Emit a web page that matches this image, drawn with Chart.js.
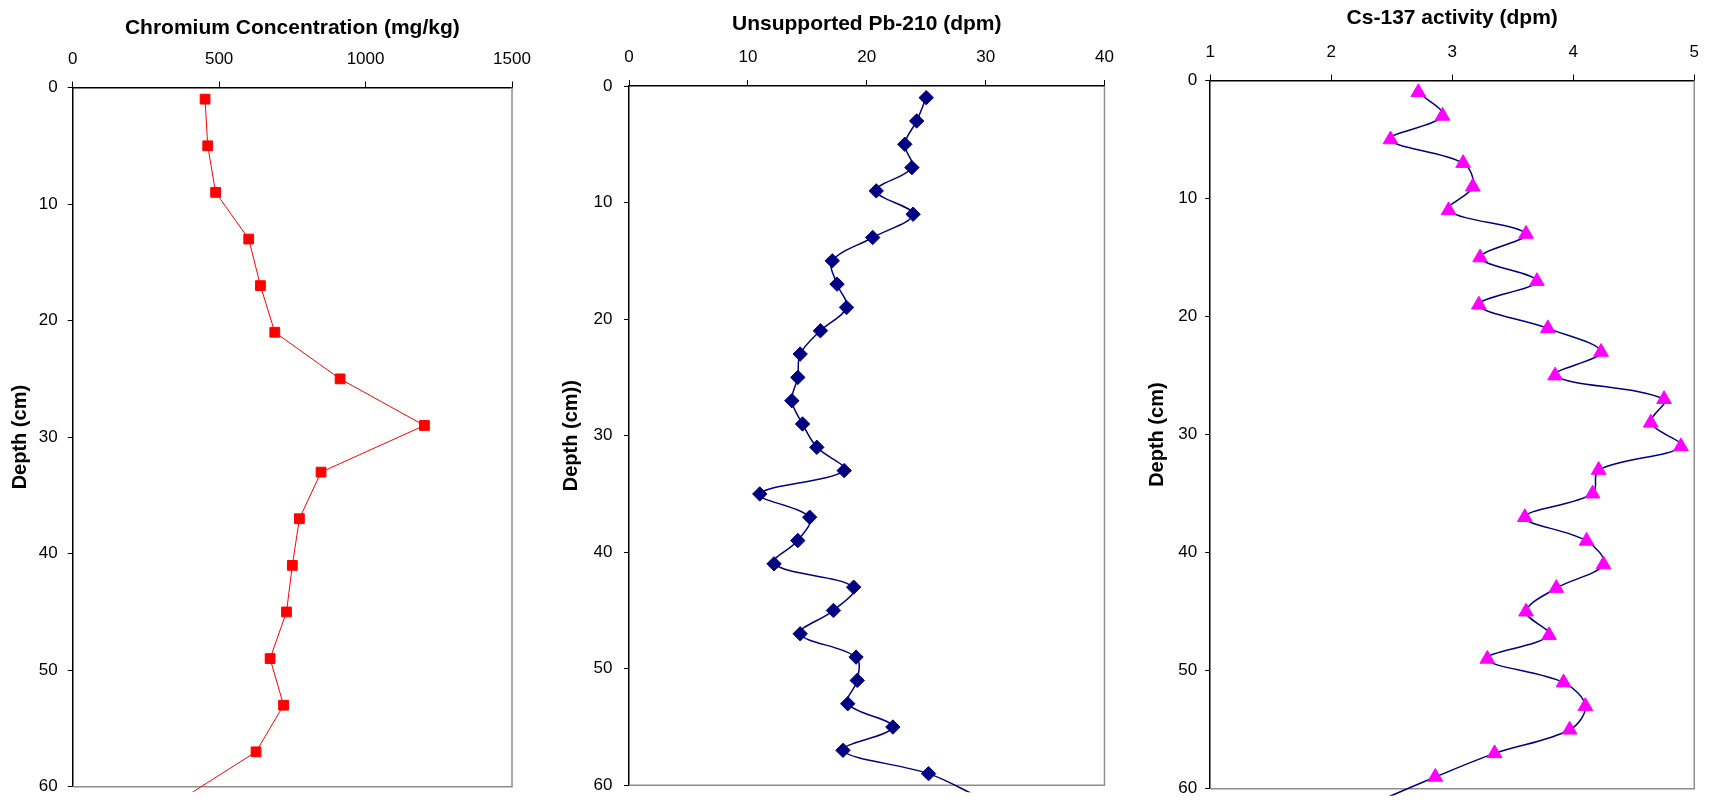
<!DOCTYPE html>
<html>
<head>
<meta charset="utf-8">
<title>Core profiles</title>
<script src="https://cdn.jsdelivr.net/npm/chart.js@4.4.1/dist/chart.umd.min.js"></script>
<style>
  html, body { margin: 0; padding: 0; background: #fff; }
  #wrap { position: relative; width: 1711px; height: 807px; overflow: hidden; }
  canvas { position: absolute; top: 0; }
</style>
</head>
<body>
<div id="wrap">
  <canvas id="crChart" width="550" height="807" style="left:0px"></canvas>
  <canvas id="pbChart" width="590" height="807" style="left:550px"></canvas>
  <canvas id="csChart" width="571" height="807" style="left:1140px"></canvas>
</div>
<script>
// Step 1: Data (depth in cm, last point sits just below the 60 cm floor)
const crDepth = [1, 5, 9, 13, 17, 21, 25, 29, 33, 37, 41, 45, 49, 53, 57, 61];
const crValues = [452, 461, 488, 601, 641, 690, 913, 1201, 848, 774, 750, 730, 674, 720, 626, 375];

const pbDepth = [1, 3, 5, 7, 9, 11, 13, 15, 17, 19, 21, 23, 25, 27, 29, 31,
                 33, 35, 37, 39, 41, 43, 45, 47, 49, 51, 53, 55, 57, 59, 61];
const pbValues = [25.0, 24.2, 23.2, 23.8, 20.8, 23.9, 20.5, 17.1, 17.5, 18.3, 16.1,
                  14.4, 14.2, 13.7, 14.6, 15.8, 18.1, 11.0, 15.2, 14.2, 12.2, 18.9,
                  17.2, 14.4, 19.1, 19.2, 18.4, 22.2, 18.0, 25.2, 29.4];

const csDepth = pbDepth;
const csValues = [2.72, 2.92, 2.49, 3.09, 3.17, 2.97, 3.61, 3.23, 3.70, 3.22, 3.79,
                  4.23, 3.85, 4.75, 4.64, 4.89, 4.21, 4.16, 3.60, 4.11, 4.25, 3.86,
                  3.61, 3.80, 3.29, 3.92, 4.10, 3.97, 3.35, 2.86, 2.40];

const depthTicks = [0, 10, 20, 30, 40, 50, 60];

// Step 2: shared look
const FONT = "'Liberation Sans', Arial, sans-serif";
Chart.defaults.font.family = FONT;
Chart.defaults.color = "#000";

// gray frame on the right and bottom of the plot area (Excel style)
const plotFrame = {
  id: "plotFrame",
  beforeDatasetsDraw(chart) {
    const { ctx, chartArea: a } = chart;
    ctx.save();
    ctx.strokeStyle = "#8e8e8e";
    ctx.lineWidth = 1.5;
    ctx.beginPath();
    ctx.moveTo(a.right, a.top);
    ctx.lineTo(a.right, a.bottom);
    ctx.lineTo(a.left, a.bottom);
    ctx.stroke();
    ctx.restore();
  }
};

function toPoints(values, depths) {
  return depths.map((d, i) => ({ x: values[i], y: d }));
}

// last point is only there so the line runs off the bottom
function hideLast(depths, r) {
  return depths.map((d, i) => (i === depths.length - 1 ? 0 : r));
}

// Step 3: one chart per profile
function makePanel(id, p) {
  const ctx = document.getElementById(id).getContext("2d");
  return new Chart(ctx, {
    type: "scatter",
    data: {
      datasets: [{
        data: toPoints(p.values, p.depths),
        showLine: true,
        borderColor: p.lineColor,
        borderWidth: p.lineWidth,
        tension: p.tension,
        pointStyle: p.marker,
        pointRadius: hideLast(p.depths, p.markerSize),
        pointBackgroundColor: p.markerColor,
        pointBorderColor: p.markerColor,
        pointBorderWidth: 1,
        clip: { left: 12, right: 12, top: 12, bottom: p.clipBottom }
      }]
    },
    plugins: [plotFrame],
    options: {
      responsive: false,
      animation: false,
      events: [],
      layout: { padding: { left: 0, top: 0, right: p.padRight, bottom: p.padBottom } },
      plugins: { legend: { display: false }, tooltip: { enabled: false } },
      scales: {
        x: {
          type: "linear",
          position: "top",
          min: p.xMin,
          max: p.xMax,
          ticks: {
            stepSize: p.xStep,
            padding: p.xTickPad,
            font: { size: 17 },
            color: "#000",
            callback: (v) => String(v)
          },
          grid: { drawOnChartArea: false, drawTicks: true, tickLength: 6, color: "#000", lineWidth: 1 },
          border: { display: true, color: "#000", width: 1.5 },
          title: {
            display: true,
            text: p.title,
            font: { size: 21, weight: "bold" },
            color: "#000",
            padding: { top: p.titlePad, bottom: 0 }
          },
          afterFit: (scale) => { scale.height = p.xAxisHeight; }
        },
        y: {
          type: "linear",
          position: "left",
          reverse: true,
          min: 0,
          max: 60,
          afterBuildTicks: (scale) => { scale.ticks = depthTicks.map(v => ({ value: v })); },
          ticks: { padding: p.yTickPad, font: { size: 17 }, color: "#000" },
          grid: { drawOnChartArea: false, drawTicks: true, tickLength: 5, color: "#000", lineWidth: 1 },
          border: { display: true, color: "#000", width: 1.5 },
          title: {
            display: true,
            text: p.yTitle,
            font: { size: 20, weight: "bold" },
            color: "#000",
            padding: { top: p.yTitlePad, bottom: 0 }
          },
          afterFit: (scale) => { scale.width = p.yAxisWidth; }
        }
      }
    }
  });
}

const crChart = makePanel("crChart", {
  title: "Chromium Concentration (mg/kg)", yTitle: "Depth (cm)",
  depths: crDepth, values: crValues,
  xMin: 0, xMax: 1500, xStep: 500,
  lineColor: "#ff0000", lineWidth: 1, tension: 0,
  marker: "rect", markerSize: 6.9, markerColor: "#ff0000",
  yAxisWidth: 72.7, xAxisHeight: 87.5, padRight: 38, padBottom: 12,
  titlePad: 16, yTitlePad: 8, xTickPad: 12, yTickPad: 10, clipBottom: 5
});

const pbChart = makePanel("pbChart", {
  title: "Unsupported Pb-210 (dpm)", yTitle: "Depth (cm))",
  depths: pbDepth, values: pbValues,
  xMin: 0, xMax: 40, xStep: 10,
  lineColor: "#000080", lineWidth: 1.5, tension: 0.35,
  marker: "rectRot", markerSize: 7.2, markerColor: "#000080",
  yAxisWidth: 79, xAxisHeight: 86, padRight: 35.5, padBottom: 9.3,
  titlePad: 11.3, yTitlePad: 9.7, xTickPad: 12, yTickPad: 11.5, clipBottom: 7
});

const csChart = makePanel("csChart", {
  title: "Cs-137 activity (dpm)", yTitle: "Depth (cm)",
  depths: csDepth, values: csValues,
  xMin: 1, xMax: 5, xStep: 1,
  lineColor: "#000080", lineWidth: 1.5, tension: 0.35,
  marker: "triangle", markerSize: 8.5, markerColor: "#ff00ff",
  yAxisWidth: 70.2, xAxisHeight: 80.5, padRight: 9.3, padBottom: 9.3,
  titlePad: 6, yTitlePad: 5.8, xTickPad: 12, yTickPad: 8, clipBottom: 7
});
</script>
</body>
</html>
